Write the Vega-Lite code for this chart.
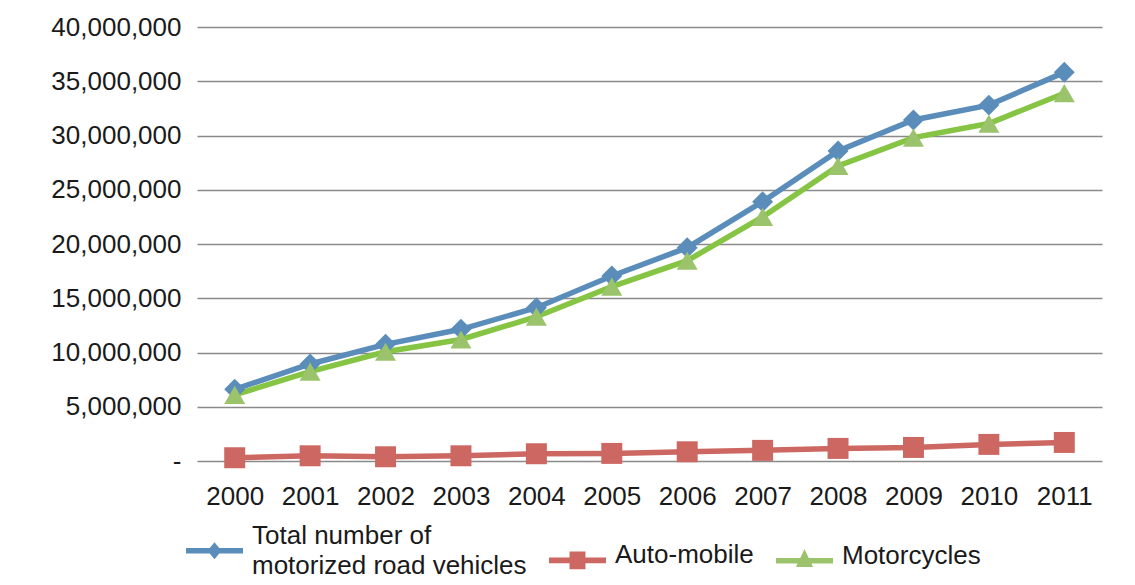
{
  "$schema": "https://vega.github.io/schema/vega-lite/v6.json",
  "width": 905,
  "height": 434,
  "autosize": {"type": "none"},
  "padding": {"left": 197, "top": 27, "right": 33, "bottom": 124},
  "background": "white",
  "config": {
    "view": {"stroke": null},
    "font": "Liberation Sans",
    "axis": {"labelFont": "Liberation Sans", "labelColor": "#1a1a1a"}
  },
  "data": {
    "values": [
      {"year": "2000", "series": "Total number of motorized road vehicles", "vehicles": 6610000},
      {"year": "2001", "series": "Total number of motorized road vehicles", "vehicles": 8940000},
      {"year": "2002", "series": "Total number of motorized road vehicles", "vehicles": 10750000},
      {"year": "2003", "series": "Total number of motorized road vehicles", "vehicles": 12140000},
      {"year": "2004", "series": "Total number of motorized road vehicles", "vehicles": 14130000},
      {"year": "2005", "series": "Total number of motorized road vehicles", "vehicles": 17050000},
      {"year": "2006", "series": "Total number of motorized road vehicles", "vehicles": 19660000},
      {"year": "2007", "series": "Total number of motorized road vehicles", "vehicles": 23900000},
      {"year": "2008", "series": "Total number of motorized road vehicles", "vehicles": 28570000},
      {"year": "2009", "series": "Total number of motorized road vehicles", "vehicles": 31430000},
      {"year": "2010", "series": "Total number of motorized road vehicles", "vehicles": 32800000},
      {"year": "2011", "series": "Total number of motorized road vehicles", "vehicles": 35820000},
      {"year": "2000", "series": "Auto-mobile", "vehicles": 300000},
      {"year": "2001", "series": "Auto-mobile", "vehicles": 480000},
      {"year": "2002", "series": "Auto-mobile", "vehicles": 390000},
      {"year": "2003", "series": "Auto-mobile", "vehicles": 480000},
      {"year": "2004", "series": "Auto-mobile", "vehicles": 670000},
      {"year": "2005", "series": "Auto-mobile", "vehicles": 700000},
      {"year": "2006", "series": "Auto-mobile", "vehicles": 850000},
      {"year": "2007", "series": "Auto-mobile", "vehicles": 980000},
      {"year": "2008", "series": "Auto-mobile", "vehicles": 1160000},
      {"year": "2009", "series": "Auto-mobile", "vehicles": 1250000},
      {"year": "2010", "series": "Auto-mobile", "vehicles": 1530000},
      {"year": "2011", "series": "Auto-mobile", "vehicles": 1710000},
      {"year": "2000", "series": "Motorcycles", "vehicles": 6100000},
      {"year": "2001", "series": "Motorcycles", "vehicles": 8230000},
      {"year": "2002", "series": "Motorcycles", "vehicles": 10070000},
      {"year": "2003", "series": "Motorcycles", "vehicles": 11200000},
      {"year": "2004", "series": "Motorcycles", "vehicles": 13300000},
      {"year": "2005", "series": "Motorcycles", "vehicles": 16070000},
      {"year": "2006", "series": "Motorcycles", "vehicles": 18460000},
      {"year": "2007", "series": "Motorcycles", "vehicles": 22500000},
      {"year": "2008", "series": "Motorcycles", "vehicles": 27190000},
      {"year": "2009", "series": "Motorcycles", "vehicles": 29800000},
      {"year": "2010", "series": "Motorcycles", "vehicles": 31100000},
      {"year": "2011", "series": "Motorcycles", "vehicles": 33900000}
    ]
  },
  "encoding": {
    "x": {
      "field": "year",
      "type": "ordinal",
      "scale": {"type": "point", "padding": 0.5},
      "axis": {
        "title": null,
        "labelAngle": 0,
        "labelFontSize": 26,
        "labelPadding": 22,
        "domain": false,
        "ticks": false,
        "grid": false
      }
    },
    "y": {
      "field": "vehicles",
      "type": "quantitative",
      "scale": {"domain": [0, 40000000], "nice": false},
      "axis": {
        "title": null,
        "values": [0, 5000000, 10000000, 15000000, 20000000, 25000000, 30000000, 35000000, 40000000],
        "labelExpr": "datum.value == 0 ? '-' : format(datum.value, ',')",
        "labelFontSize": 26,
        "labelPadding": 16,
        "domain": false,
        "ticks": false,
        "grid": true,
        "gridColor": "#8a8a8a",
        "gridWidth": 1.6
      }
    }
  },
  "layer": [
    {
      "mark": {"type": "line", "strokeWidth": 5.5},
      "encoding": {
        "color": {
          "field": "series",
          "type": "nominal",
          "scale": {
            "domain": ["Total number of motorized road vehicles", "Auto-mobile", "Motorcycles"],
            "range": ["#5a8dba", "#cd6762", "#86c443"]
          },
          "legend": null
        }
      }
    },
    {
      "mark": {"type": "point", "filled": true, "opacity": 1, "size": 440},
      "encoding": {
        "color": {
          "field": "series",
          "type": "nominal",
          "scale": {
            "domain": ["Total number of motorized road vehicles", "Auto-mobile", "Motorcycles"],
            "range": ["#5a8dba", "#cd6762", "#9bc36c"]
          },
          "legend": null
        },
        "shape": {
          "condition": [
            {"test": "datum.series == 'Auto-mobile'", "value": "square"},
            {"test": "datum.series == 'Motorcycles'", "value": "triangle-up"}
          ],
          "value": "diamond"
        }
      }
    },
    {
      "transform": [{"filter": "false"}],
      "mark": {"type": "point", "filled": true, "opacity": 1},
      "encoding": {
        "fill": {
          "field": "series",
          "type": "nominal",
          "scale": {
            "domain": ["Total number of motorized road vehicles", "Auto-mobile", "Motorcycles"],
            "range": ["#5a8dba", "#cd6762", "#9bc36c"]
          },
          "legend": {
            "title": null,
            "orient": "none",
            "legendX": -11,
            "legendY": 495,
            "direction": "horizontal",
            "symbolSize": 3249,
            "symbolStrokeWidth": 0,
            "symbolOpacity": 1,
            "labelFontSize": 26,
            "labelColor": "#1a1a1a",
            "labelLimit": 400,
            "labelOffset": 9,
            "columnPadding": 22,
            "labelExpr": "datum.label == 'Total number of motorized road vehicles' ? ['Total number of', 'motorized road vehicles'] : datum.label",
            "encoding": {
              "labels": {
                "dy": {"value": {"expr": "datum.value == 'Total number of motorized road vehicles' ? -15 : -5"}},
                "lineHeight": {"value": 30}
              }
            }
          }
        },
        "shape": {
          "field": "series",
          "type": "nominal",
          "scale": {
            "domain": ["Total number of motorized road vehicles", "Auto-mobile", "Motorcycles"],
            "range": [
              "M-1,-0.1H-0.167L0,-0.3L0.167,-0.1H1V0.1H0.167L0,0.3L-0.167,0.1H-1Z",
              "M-1,-0.1H-0.28V-0.31H0.28V-0.1H1V0.1H0.28V0.31H-0.28V0.1H-1Z",
              "M-1,-0.1H-0.148L0,-0.41L0.148,-0.1H1V0.1H0.243L0.3,0.22H-0.3L-0.243,0.1H-1Z"
            ]
          }
        }
      }
    }
  ],
  "resolve": {"scale": {"color": "independent"}}
}
